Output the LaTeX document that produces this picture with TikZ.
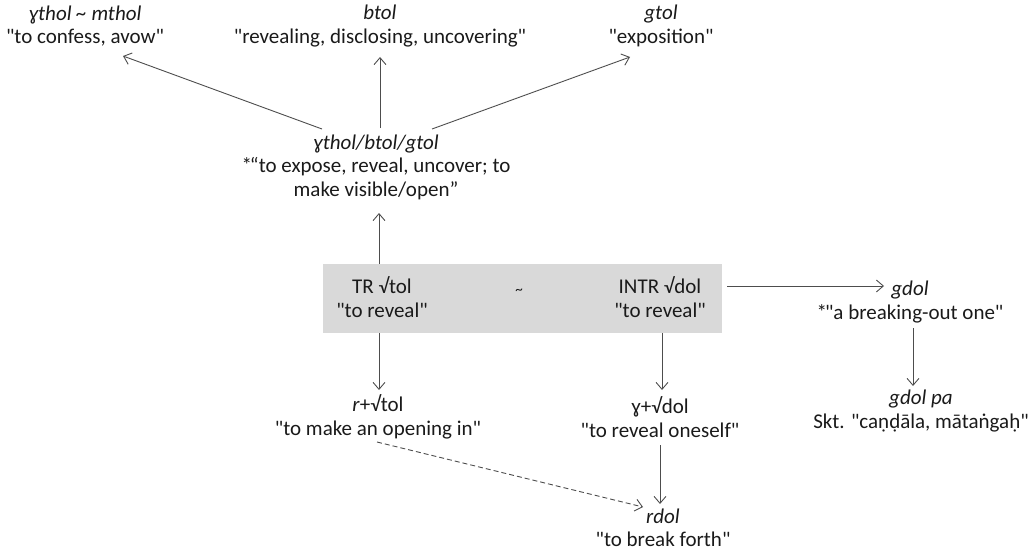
\documentclass[tikz,border=0pt]{standalone}
\usepackage{fontspec}
\setmainfont{Carlito}[Ligatures=TeXOff]
\usetikzlibrary{arrows.meta,calc}
\definecolor{txt}{HTML}{1A1A1A}
\definecolor{ln}{HTML}{4D4D4D}
\definecolor{boxg}{HTML}{D9D9D9}
\begin{document}
\begin{tikzpicture}[x=1pt,y=-1pt,
  lbl/.style={align=center, inner sep=0pt, text=txt, font=\fontsize{21}{23.5}\selectfont},
  arr/.style={draw=ln, line width=0.9pt, -{Straight Barb[length=7pt,width=12pt]}},
  dsh/.style={arr, dash pattern=on 5pt off 3pt},
  graybox/.style={fill=boxg, minimum width=399pt, minimum height=69pt, inner sep=0pt}]
\useasboundingbox (0,0) rectangle (1035,551);
\node[lbl] (conf) at (85,26) {\textit{ɣthol \textasciitilde{} mthol}\\"to confess, avow"};
\node[lbl] (btol) at (380,26) {\textit{btol}\\"revealing, disclosing, uncovering"};
\node[lbl] (gtol) at (661,26) {\textit{gtol}\\"exposition"};
\node[lbl] (mid) at (376,167) {\textit{ɣthol/btol/gtol}\\*\kern-2pt“to expose, reveal, uncover; to\\make visible/open”};
\node[graybox] (box) at (522.5,298.5) {};
\node[lbl] (tr) at (382,297) {TR √tol\\"to reveal"};
\node[lbl] (intr) at (660,297) {INTR √dol\\"to reveal"};
\node[lbl, font=\fontsize{15}{16}\selectfont] (tl) at (519,292) {\textasciitilde};
\node[lbl] (gdol) at (910,302) {\textit{gdol}\\*\kern-2pt"a breaking-out one"};
\node[lbl] (gdolpa) at (921,411) {\textit{gdol pa}\\Skt. "caṇḍāla, mātaṅgaḥ"};
\node[lbl] (rtol) at (378,417) {\textit{r}+√tol\\"to make an opening in"};
\node[lbl] (gdolv) at (660,417) {ɣ+√dol\\"to reveal oneself"};
\node[lbl] (rdol) at (663,528) {\textit{rdol}\\"to break forth"};
% arrows
\draw[arr] ($(mid)+(-54,-38)$) -- ($(conf)+(38,30)$);
\draw[arr] ($(mid)+(4,-39)$) -- ($(btol)+(0,31)$);
\draw[arr] ($(mid)+(56,-38)$) -- ($(gtol)+(-31,31)$);
\draw[arr] ($(box.north)+(-143.5,0)$) -- ($(mid)+(3,46)$);
\draw[arr] ($(box.south)+(-143.5,0)$) -- ($(rtol)+(1,-27)$);
\draw[arr] ($(box.south)+(139.5,0)$) -- ($(gdolv)+(2,-27)$);
\draw[arr] ($(box.east)+(5,-12.5)$) -- ($(gdol)+(-26,-16)$);
\draw[arr] ($(gdol)+(3,26)$) -- ($(gdolpa)+(-8,-25)$);
\draw[arr] ($(gdolv)+(0,28)$) -- ($(rdol)+(-3,-24)$);
\draw[dsh] ($(rtol)+(-1,25)$) -- ($(rdol)+(-20,-21)$);
\end{tikzpicture}
\end{document}
